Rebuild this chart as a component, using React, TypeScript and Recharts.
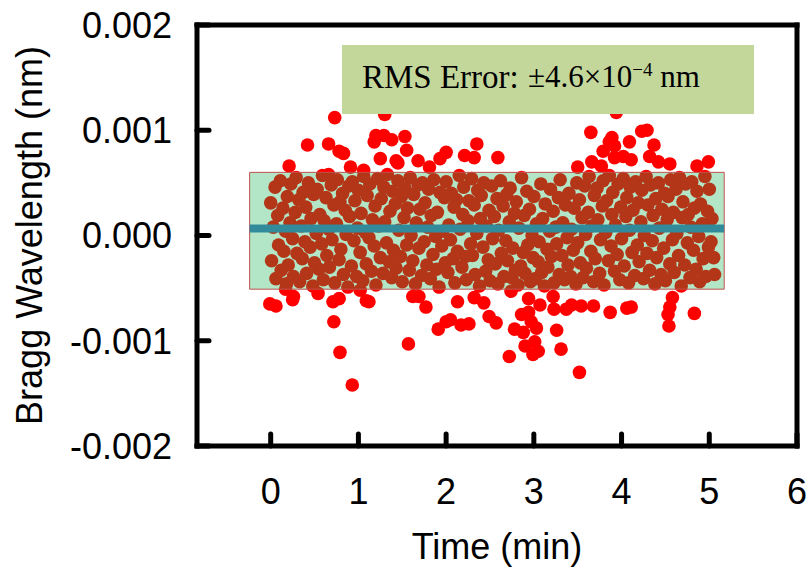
import React from 'react';
import { ScatterChart, Scatter, XAxis, YAxis, ReferenceArea, ReferenceLine } from 'recharts';

// wavelength shift values are in units of 1e-4 nm, time in minutes
const timeTicks = [0, 1, 2, 3, 4, 5, 6];
const topTicks = [0, 1, 2, 3, 4, 5];
const shiftTicks = [-20, -10, 0, 10, 20];
const innerTicks = [-10, 0, 10];

const bandLow = -5.1;
const bandHigh = 6.0;
const bandStart = -0.24;
const bandEnd = 5.17;
const meanShift = 0.67;

const corePoints: [number, number][] = [
  [0.00, 3.1], [0.01, -2.4], [0.03, 0.8], [0.05, 4.6], [0.06, -4.1], [0.08, 1.9], [0.09, -0.9],
  [0.11, 5.2], [0.12, -3.3], [0.14, 2.6], [0.15, -1.5], [0.17, 0.4], [0.18, -4.6], [0.19, 3.7],
  [0.20, -2.8], [0.22, 1.2], [0.23, 4.9], [0.25, -0.3], [0.26, -3.9], [0.28, 2.2], [0.29, 5.5],
  [0.30, -1.7], [0.32, 3.4], [0.33, -4.4], [0.35, 0.9], [0.36, -2.2], [0.37, 4.1], [0.39, -0.6],
  [0.40, 2.7], [0.41, -3.6], [0.43, 5.0], [0.45, -1.1], [0.46, 1.6], [0.48, -4.8], [0.49, 3.9],
  [0.50, -2.6], [0.52, 0.2], [0.53, 4.4], [0.55, -3.2], [0.56, 2.0], [0.58, -0.8], [0.59, 5.7],
  [0.60, -4.2], [0.61, 1.4], [0.63, 3.6], [0.64, -1.9], [0.66, 0.6], [0.67, -3.0], [0.69, 4.8],
  [0.70, -0.4], [0.72, 2.9], [0.73, -4.5], [0.75, 1.1], [0.76, 5.3], [0.78, -2.3], [0.79, 3.2],
  [0.80, -1.3], [0.82, 4.0], [0.83, -3.7], [0.85, 2.4], [0.86, 0.1], [0.88, -4.9], [0.89, 4.7],
  [0.90, 1.8], [0.92, -2.9], [0.93, 5.1], [0.95, -0.5], [0.96, 3.3], [0.98, -3.9], [0.99, 0.7],
  [1.00, 4.3], [1.02, -1.6], [1.03, 2.1], [1.05, -4.3], [1.06, 5.6], [1.08, 0.3], [1.09, -2.7],
  [1.10, 3.8], [1.12, -0.2], [1.13, 4.9], [1.15, -3.4], [1.16, 1.5], [1.18, -1.0], [1.19, 2.8],
  [1.20, -4.7], [1.22, 5.4], [1.23, 0.9], [1.25, -2.1], [1.26, 3.5], [1.28, -3.6], [1.29, 4.6],
  [1.30, 1.3], [1.32, -0.7], [1.33, 5.8], [1.35, -2.5], [1.36, 2.3], [1.38, -4.0], [1.39, 4.2],
  [1.40, -1.4], [1.42, 3.0], [1.43, -3.1], [1.45, 5.2], [1.46, 0.5], [1.48, -2.0], [1.49, 3.7],
  [1.50, -4.4], [1.52, 1.7], [1.53, 4.5], [1.55, -0.9], [1.56, 2.6], [1.58, -3.3], [1.59, 5.5],
  [1.60, 0.0], [1.62, -2.4], [1.63, 3.9], [1.65, -4.6], [1.66, 1.2], [1.68, 4.8], [1.69, -1.2],
  [1.70, 2.5], [1.72, -3.8], [1.73, 5.0], [1.75, -0.6], [1.76, 3.1], [1.78, -2.8], [1.79, 0.8],
  [1.80, 4.4], [1.82, -4.1], [1.83, 1.9], [1.85, -1.8], [1.86, 5.3], [1.88, -0.1], [1.89, -3.2],
  [1.90, 2.2], [1.92, -4.9], [1.93, 4.1], [1.95, -1.0], [1.96, 0.4], [1.98, 3.6], [1.99, -2.6],
  [2.00, 5.1], [2.02, -3.5], [2.03, 1.0], [2.05, -0.4], [2.06, 4.0], [2.08, -2.2], [2.09, 2.7],
  [2.10, -4.5], [2.12, 3.4], [2.13, -1.5], [2.15, 5.7], [2.16, 0.6], [2.18, -3.0], [2.19, 2.0],
  [2.20, 4.6], [2.22, -2.0], [2.23, -4.2], [2.25, 1.4], [2.26, 3.3], [2.28, -0.8], [2.29, 5.4],
  [2.30, -1.9], [2.32, 2.9], [2.33, -3.7], [2.35, 0.2], [2.36, 4.3], [2.38, -4.8], [2.39, 1.6],
  [2.40, 3.8], [2.42, -1.1], [2.43, 5.0], [2.45, -3.4], [2.46, 0.9], [2.48, -2.3], [2.49, 2.4],
  [2.50, -4.3], [2.52, 4.7], [2.53, -0.3], [2.55, 1.8], [2.56, -2.7], [2.58, 3.5], [2.59, -4.6],
  [2.60, 0.5], [2.62, 5.2], [2.63, -1.7], [2.65, 2.8], [2.66, -3.9], [2.68, -0.5], [2.69, 3.9],
  [2.70, -2.4], [2.72, 1.3], [2.73, 4.5], [2.75, -4.0], [2.76, -1.2], [2.78, 2.1], [2.79, -3.3],
  [2.80, 3.2], [2.82, -4.7], [2.83, 0.7], [2.85, -2.9], [2.86, 5.5], [2.88, -1.6], [2.89, 1.9],
  [2.90, -3.6], [2.92, 4.2], [2.93, -0.9], [2.95, 2.5], [2.96, -4.4], [2.98, 0.0], [2.99, -2.1],
  [3.00, 3.7], [3.02, -4.1], [3.03, 1.1], [3.05, -2.5], [3.06, -0.6], [3.08, 4.9], [3.09, -3.5],
  [3.10, 1.6], [3.12, -4.8], [3.13, 3.0], [3.15, -1.3], [3.16, -3.0], [3.18, 0.4], [3.19, 4.4],
  [3.20, -2.0], [3.22, 2.3], [3.23, -4.5], [3.25, 0.8], [3.26, -0.8], [3.28, 3.6], [3.29, -3.7],
  [3.30, 5.3], [3.32, -1.9], [3.33, 1.2], [3.35, -4.2], [3.36, 2.9], [3.38, -0.2], [3.39, -2.8],
  [3.40, 4.0], [3.42, -3.9], [3.43, 0.6], [3.45, -1.4], [3.46, 2.6], [3.48, -4.6], [3.49, 5.0],
  [3.50, -0.7], [3.52, 3.4], [3.53, -2.6], [3.55, 1.7], [3.56, -4.0], [3.58, 4.7], [3.59, 0.1],
  [3.60, -3.1], [3.62, 2.2], [3.63, 5.6], [3.65, -1.5], [3.66, 0.9], [3.68, -4.4], [3.69, 3.8],
  [3.70, -2.2], [3.72, 4.5], [3.73, 1.5], [3.75, -3.6], [3.76, -0.4], [3.78, 2.8], [3.79, 5.2],
  [3.80, -4.7], [3.82, 0.3], [3.83, 3.3], [3.85, -2.4], [3.86, 5.7], [3.88, -1.0], [3.89, 2.0],
  [3.90, 4.1], [3.92, -3.4], [3.93, 1.0], [3.95, -1.8], [3.96, 4.9], [3.98, -4.2], [3.99, 2.7],
  [4.00, -0.3], [4.02, 5.4], [4.03, -2.9], [4.05, 1.8], [4.06, 3.6], [4.08, -4.5], [4.09, 0.5],
  [4.10, 4.6], [4.12, -1.6], [4.13, 2.4], [4.15, -3.8], [4.16, 5.1], [4.18, -0.9], [4.19, 3.1],
  [4.20, -2.5], [4.22, 1.3], [4.23, 4.3], [4.25, -4.1], [4.26, 0.0], [4.28, 5.6], [4.29, -1.7],
  [4.30, 2.9], [4.32, -3.3], [4.33, 4.8], [4.35, -0.5], [4.36, 1.9], [4.38, -4.6], [4.39, 3.5],
  [4.40, -2.1], [4.42, 5.0], [4.43, 0.7], [4.45, -3.7], [4.46, 2.5], [4.48, -1.2], [4.49, 4.0],
  [4.50, -4.3], [4.52, 1.5], [4.53, 3.7], [4.55, -2.7], [4.56, 5.3], [4.58, -0.4], [4.59, 2.2],
  [4.60, -3.5], [4.62, 4.4], [4.63, 0.2], [4.65, -1.9], [4.66, 5.5], [4.68, -4.8], [4.69, 1.7],
  [4.70, 3.2], [4.72, -2.8], [4.73, 4.9], [4.75, -0.7], [4.76, 2.0], [4.78, -4.0], [4.79, 0.8],
  [4.80, 5.1], [4.82, -1.4], [4.83, 2.6], [4.85, -3.2], [4.86, 4.2], [4.88, -0.1], [4.89, -4.4],
  [4.90, 3.0], [4.92, 1.1], [4.93, -2.2], [4.95, 5.6], [4.96, -3.9], [4.98, 2.3], [4.99, -1.1],
  [5.00, 4.4], [5.02, -0.6], [5.03, 1.6], [5.05, -2.1], [5.06, -3.7],
];

const upperOutliers: [number, number][] = [
  [0.73, 11.2], [1.30, 11.5], [0.42, 8.6], [0.66, 8.7], [0.78, 8.0], [0.83, 7.8], [0.21, 6.6],
  [1.20, 9.5], [1.29, 9.5], [1.38, 9.1], [1.18, 8.9], [1.53, 9.4], [1.55, 8.1], [1.25, 7.3],
  [1.43, 7.1], [1.45, 6.9], [1.68, 7.1], [1.81, 6.5], [1.93, 7.3], [2.00, 7.9], [2.21, 7.6],
  [2.32, 7.4], [2.35, 8.7], [2.59, 7.4], [0.91, 6.5], [1.06, 6.2], [0.66, 5.8], [3.50, 6.5],
  [3.66, 7.0], [3.65, 9.8], [3.89, 9.3], [3.86, 8.9], [3.92, 8.5], [4.09, 8.9], [4.23, 9.9],
  [4.29, 10.0], [4.37, 8.6], [3.79, 8.0], [3.77, 6.6], [3.92, 7.4], [4.02, 7.5], [4.11, 7.2],
  [4.32, 7.5], [4.42, 7.0], [4.55, 6.8], [4.86, 6.6], [4.99, 7.0], [3.94, 11.7],
];

const lowerOutliers: [number, number][] = [
  [-0.01, -6.5], [0.06, -6.7], [0.25, -6.1], [0.26, -5.8], [0.54, -5.5], [0.71, -6.3], [0.78, -6.0],
  [0.72, -8.2], [0.79, -11.1], [0.93, -14.2], [1.09, -6.2], [1.12, -6.3], [1.02, -5.2], [1.62, -5.8],
  [1.69, -5.8], [1.77, -6.8], [1.57, -10.3], [1.91, -8.9], [2.00, -8.2], [2.05, -8.0], [2.13, -6.3],
  [2.17, -8.5], [2.26, -8.4], [2.32, -5.9], [2.43, -6.4], [2.49, -7.7], [2.57, -8.3], [2.72, -11.5],
  [2.74, -5.3], [2.94, -6.0], [2.86, -7.5], [2.94, -7.3], [2.78, -8.9], [2.88, -9.2], [2.97, -8.2],
  [3.03, -8.8], [2.90, -10.5], [3.01, -10.1], [2.99, -11.3], [3.05, -11.0], [3.07, -6.6], [3.22, -5.8],
  [3.23, -7.0], [3.26, -9.0], [3.31, -10.8], [3.37, -7.0], [3.43, -6.6], [3.54, -6.7], [3.52, -13.0],
  [3.68, -6.7], [3.87, -7.3], [4.06, -6.9], [4.11, -6.8], [4.58, -5.9], [4.55, -6.8], [4.53, -7.5],
  [4.54, -8.6], [4.83, -7.4], [0.17, -5.1],
];

const points = [...corePoints, ...upperOutliers, ...lowerOutliers].map(([t, v]) => ({ t, v }));

const sans = '"Liberation Sans", Arial, sans-serif';
const serif = '"Liberation Serif", "Times New Roman", serif';
const frame = { stroke: '#000', strokeWidth: 5, strokeLinecap: 'square' as const };
const tickStroke = { stroke: '#000', strokeWidth: 5, strokeLinecap: 'round' as const };
const tickFont = { fill: '#000', fontSize: 36, fontFamily: sans };
const titleFont = { fontSize: 36, fontFamily: sans, fill: '#000' };

const RedDot = (props: any) => <circle cx={props.cx} cy={props.cy} r={6.8} fill="#ff0000" />;

export default function App() {
  return (
    <div style={{ position: 'absolute', left: 0, top: 0, width: 807, height: 569, background: '#fff' }}>
      <ScatterChart width={807} height={569} margin={{ top: 24, right: 9, bottom: 63, left: 77 }}>
        <XAxis
          xAxisId="b"
          type="number"
          dataKey="t"
          domain={[-0.84, 6]}
          ticks={timeTicks}
          interval={0}
          allowDataOverflow
          height={60}
          axisLine={frame}
          tickLine={tickStroke}
          tickSize={-12}
          tickMargin={44}
          tick={tickFont}
          label={{ value: 'Time (min)', position: 'bottom', offset: 27, style: titleFont }}
        />
        <XAxis
          xAxisId="t"
          orientation="top"
          type="number"
          domain={[-0.84, 6]}
          ticks={topTicks}
          interval={0}
          allowDataOverflow
          height={1}
          axisLine={frame}
          tickLine={tickStroke}
          tickSize={-12}
          tick={false}
        />
        <YAxis
          yAxisId="l"
          type="number"
          dataKey="v"
          domain={[-20, 20]}
          ticks={shiftTicks}
          interval={0}
          allowDataOverflow
          width={120}
          axisLine={frame}
          tickLine={tickStroke}
          tickSize={-12}
          tickMargin={37}
          tick={tickFont}
          tickFormatter={(v: number) => (v / 10000).toFixed(3)}
          label={{
            value: 'Bragg Wavelength (nm)',
            angle: -90,
            position: 'insideLeft',
            offset: -48,
            style: { ...titleFont, textAnchor: 'middle' },
          }}
        />
        <YAxis
          yAxisId="r"
          orientation="right"
          type="number"
          domain={[-20, 20]}
          ticks={innerTicks}
          interval={0}
          allowDataOverflow
          width={1}
          axisLine={frame}
          tickLine={tickStroke}
          tickSize={-12}
          tick={false}
        />
        <Scatter
          xAxisId="b"
          yAxisId="l"
          data={points}
          shape={RedDot}
          isAnimationActive={false}
        />
        {/* translucent ±RMS band over the samples */}
        <ReferenceArea
          xAxisId="b"
          yAxisId="l"
          x1={bandStart}
          x2={bandEnd}
          y1={bandLow}
          y2={bandHigh}
          fill="#07ad4b"
          fillOpacity={0.31}
          stroke="#c0504d"
          strokeWidth={1}
          zIndex={700}
        />
        <ReferenceLine
          xAxisId="b"
          yAxisId="l"
          segment={[{ x: bandStart, y: meanShift }, { x: bandEnd, y: meanShift }]}
          stroke="#328b9b"
          strokeWidth={8}
          zIndex={710}
        />
      </ScatterChart>
      <div
        style={{
          position: 'absolute',
          left: 342,
          top: 45,
          width: 412,
          height: 69,
          background: '#c4d79b',
          fontFamily: serif,
          fontSize: 33,
          lineHeight: '64px',
          color: '#000',
          whiteSpace: 'nowrap',
        }}
      >
        <span style={{ position: 'absolute', left: 20 }}>RMS Error:</span>
        <span style={{ position: 'absolute', left: 186, fontSize: 31 }}>
          ±4.6×10<sup style={{ fontSize: 19, lineHeight: 0 }}>−4</sup> nm
        </span>
      </div>
    </div>
  );
}
